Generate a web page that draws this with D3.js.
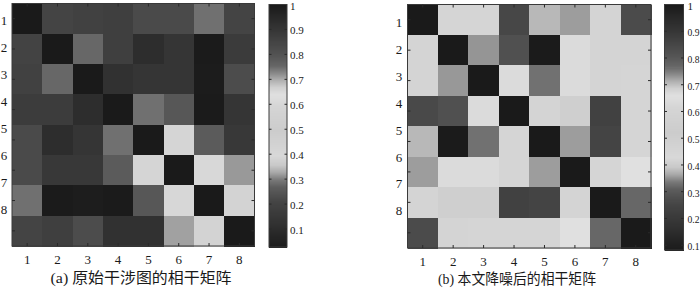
<!DOCTYPE html>
<html><head><meta charset="utf-8">
<script src="https://cdn.jsdelivr.net/npm/d3@7/dist/d3.min.js"></script>
<style>
body{margin:0;background:#fff}
svg{display:block}
text{font-family:"Liberation Serif","Times New Roman","DejaVu Serif","Noto Sans CJK SC",serif;fill:#1a1a1a}
</style>
</head><body>
<svg id="chart" width="700" height="288"></svg>
<script>
// ---------- data ----------
const axisLabels = [1, 2, 3, 4, 5, 6, 7, 8];

const matrixA = [
  [1.00, 0.21, 0.195, 0.185, 0.225, 0.225, 0.29, 0.21],
  [0.205, 1.00, 0.28, 0.185, 0.10, 0.14, 0.03, 0.165],
  [0.195, 0.28, 1.00, 0.12, 0.14, 0.14, 0.035, 0.23],
  [0.17, 0.17, 0.10, 1.00, 0.29, 0.255, 0.03, 0.14],
  [0.225, 0.10, 0.14, 0.29, 1.00, 0.39, 0.265, 0.15],
  [0.225, 0.15, 0.15, 0.265, 0.39, 1.00, 0.40, 0.32],
  [0.29, 0.03, 0.04, 0.03, 0.255, 0.395, 1.00, 0.385],
  [0.21, 0.185, 0.23, 0.12, 0.12, 0.325, 0.385, 1.00]
];

const matrixB = [
  [1.00, 0.61, 0.61, 0.26, 0.38, 0.36, 0.60, 0.27],
  [0.60, 1.00, 0.355, 0.28, 0.085, 0.64, 0.60, 0.60],
  [0.60, 0.357, 1.00, 0.64, 0.33, 0.64, 0.60, 0.61],
  [0.265, 0.28, 0.64, 1.00, 0.60, 0.50, 0.24, 0.61],
  [0.38, 0.085, 0.33, 0.61, 1.00, 0.36, 0.25, 0.61],
  [0.36, 0.64, 0.64, 0.61, 0.36, 1.00, 0.61, 0.66],
  [0.60, 0.50, 0.50, 0.24, 0.25, 0.60, 1.00, 0.32],
  [0.27, 0.60, 0.61, 0.61, 0.61, 0.66, 0.32, 1.00]
];

const colorbarTicksA = [0.1, 0.2, 0.3, 0.4, 0.5, 0.6, 0.7, 0.8, 0.9, 1];
const colorbarTickLabelsA = ["0.1", "0.2", "0.3", "0.4", "0.5", "0.6", "0.7", "0.8", "0.9", "1"];
const colorbarTicksB = [0.1, 0.2, 0.3, 0.4, 0.5, 0.6, 0.7, 0.8, 0.9, 1];
const colorbarTickLabelsB = ["0.1", "0.2", "0.3", "0.4", "0.5", "0.6", "0.7", "0.8", "0.9", "1"];
const colorRangeA = [0.028, 1.0];
const colorRangeB = [0.082, 1.0];

const captionA = "(a) 原始干涉图的相干矩阵";
const captionB = "(b) 本文降噪后的相干矩阵";

// ---------- colormap (style): position along bar -> gray level ----------
const cmapPos  = [0, 0.08, 0.19, 0.25, 0.28, 0.31, 0.34, 0.38, 0.48, 0.58, 0.63, 0.66, 0.69, 0.72, 0.75, 0.79, 0.88, 1];
const cmapGray = [26, 46, 69, 94, 122, 168, 200, 216, 204, 213, 224, 208, 176, 136, 102, 85, 58, 26];
const grayScale = d3.scaleLinear().domain(cmapPos).range(cmapGray).clamp(true);
function grayOf(t) { const g = Math.round(grayScale(t)); return d3.rgb(g, g, g).toString(); }

// ---------- layout ----------
const panels = [
  { matrix: matrixA, range: colorRangeA, ticks: colorbarTicksA, tickLabels: colorbarTickLabelsA,
    x0: 12, y0: 3.5, size: 242.5,
    cbX: 269, cbW: 18, cbTop: 4.5, cbBottom: 247, cbLabelX: 290, cbLabelMax: null,
    yLabX: 4, yLabRange: [21, 210], xLabBaseline: 264,
    caption: captionA, capX: 141, capLen: 181, capY: 283 },
  { matrix: matrixB, range: colorRangeB, ticks: colorbarTicksB, tickLabels: colorbarTickLabelsB,
    x0: 407.5, y0: 4.5, size: 243.5,
    cbX: 664.5, cbW: 19, cbTop: 4.5, cbBottom: 250, cbLabelX: 687.5, cbLabelMax: 12,
    yLabX: 399, yLabRange: [23, 211], xLabBaseline: 266,
    caption: captionB, capX: 517, capLen: 158, capY: 284 }
];

const svg = d3.select("#chart");

panels.forEach(p => {
  const g = svg.append("g");
  const xs = d3.scaleBand().domain(axisLabels).range([p.x0, p.x0 + p.size]);
  const ys = d3.scaleBand().domain(axisLabels).range([p.y0, p.y0 + p.size]);
  const norm = d3.scaleLinear().domain(p.range).range([0, 1]).clamp(true);

  // cells
  const cells = [];
  p.matrix.forEach((row, i) => row.forEach((v, j) => cells.push({ r: axisLabels[i], c: axisLabels[j], v })));
  g.append("g").attr("shape-rendering", "crispEdges")
    .selectAll("rect").data(cells).join("rect")
    .attr("x", d => xs(d.c)).attr("y", d => ys(d.r))
    .attr("width", xs.bandwidth() + 0.5).attr("height", ys.bandwidth() + 0.5)
    .attr("fill", d => grayOf(norm(d.v)));

  // frame
  g.append("rect").attr("x", p.x0).attr("y", p.y0).attr("width", p.size).attr("height", p.size)
    .attr("fill", "none").attr("stroke", "#3a3a3a").attr("stroke-width", 1);

  // inward ticks at cell centers
  const tl = 3;
  const tg = g.append("g").attr("stroke", "#2a2a2a").attr("stroke-width", 1);
  axisLabels.forEach(k => {
    const cx = xs(k) + xs.bandwidth() / 2, cy = ys(k) + ys.bandwidth() / 2;
    tg.append("line").attr("x1", cx).attr("x2", cx).attr("y1", p.y0).attr("y2", p.y0 + tl);
    tg.append("line").attr("x1", cx).attr("x2", cx).attr("y1", p.y0 + p.size).attr("y2", p.y0 + p.size - tl);
    tg.append("line").attr("y1", cy).attr("y2", cy).attr("x1", p.x0).attr("x2", p.x0 + tl);
    tg.append("line").attr("y1", cy).attr("y2", cy).attr("x1", p.x0 + p.size).attr("x2", p.x0 + p.size - tl);
  });

  // x labels
  g.append("g").selectAll("text").data(axisLabels).join("text")
    .attr("x", d => xs(d) + xs.bandwidth() / 2).attr("y", p.xLabBaseline)
    .attr("text-anchor", "middle").attr("font-size", 13).text(d => d);

  // y labels (as placed in the original figure)
  const yl = d3.scalePoint().domain(axisLabels).range(p.yLabRange);
  g.append("g").selectAll("text").data(axisLabels).join("text")
    .attr("x", p.yLabX).attr("y", d => yl(d) + 4.3)
    .attr("text-anchor", "middle").attr("font-size", 13).text(d => d);

  // colorbar
  const cb = d3.scaleLinear().domain(p.range).range([p.cbBottom, p.cbTop]);
  const steps = d3.range(0, 1, 1 / 240);
  g.append("g").attr("shape-rendering", "crispEdges")
    .selectAll("rect").data(steps).join("rect")
    .attr("x", p.cbX).attr("width", p.cbW)
    .attr("y", t => cb(p.range[0] + (t + 1 / 240) * (p.range[1] - p.range[0])))
    .attr("height", (p.cbBottom - p.cbTop) / 240 + 0.6)
    .attr("fill", t => grayOf(t + 0.5 / 240));
  g.append("rect").attr("x", p.cbX).attr("y", p.cbTop).attr("width", p.cbW).attr("height", p.cbBottom - p.cbTop)
    .attr("fill", "none").attr("stroke", "#3a3a3a").attr("stroke-width", 1);
  const ctg = g.append("g").attr("stroke", "#2a2a2a").attr("stroke-width", 1);
  p.ticks.forEach(v => {
    const y = cb(v);
    if (y < p.cbTop + 1) return;
    ctg.append("line").attr("x1", p.cbX).attr("x2", p.cbX + 2.5).attr("y1", y).attr("y2", y);
    ctg.append("line").attr("x1", p.cbX + p.cbW).attr("x2", p.cbX + p.cbW - 2.5).attr("y1", y).attr("y2", y);
  });
  const lab = g.append("g").selectAll("text").data(p.ticks).join("text")
    .attr("x", p.cbLabelX).attr("y", v => cb(v) + 5)
    .attr("font-size", 11).text((v, i) => p.tickLabels[i]);
  if (p.cbLabelMax) {
    lab.filter((v, i) => p.tickLabels[i].length > 1)
      .attr("textLength", p.cbLabelMax).attr("lengthAdjust", "spacingAndGlyphs");
  }

  // caption
  g.append("text").attr("x", p.capX).attr("y", p.capY).attr("text-anchor", "middle")
    .attr("font-size", 15).attr("textLength", p.capLen).attr("lengthAdjust", "spacingAndGlyphs")
    .text(p.caption);
});
</script>
</body></html>
